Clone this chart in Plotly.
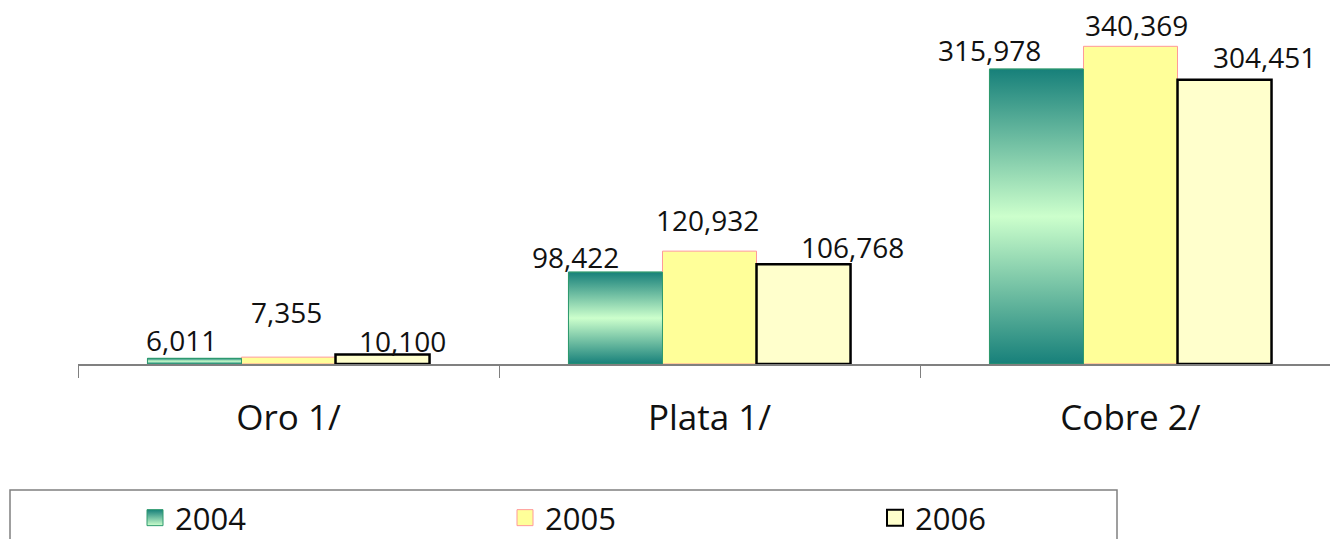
import plotly.graph_objects as go

# ---------------- data ----------------
categories = ["Oro 1/", "Plata 1/", "Cobre 2/"]
years = ["2004", "2005", "2006"]
v2004 = [6011, 98422, 315978]
v2005 = [7355, 120932, 340369]
v2006 = [10100, 106768, 304451]
values = [v2004, v2005, v2006]

# ---------------- style ----------------
W, H = 1330, 539
M_L, M_R, M_T, M_B = 78, 0, 28, 175
PLOT_W = W - M_L - M_R
PLOT_H = H - M_T - M_B
BARGAP = 0.33
FONT = "Open Sans"
TEXT_COLOR = "#111111"

fills = ["#5aa891", "#ffff99", "#ffffcc"]
edges = ["#2e9a6e", "#ff9999", "#000000"]
edge_w = [1, 1, 2.5]
grad_scale = [[0, "#17807a"], [0.5, "#ccffcc"], [1, "#17807a"]]

# label displacement (px) relative to the top centre of each bar, as in the reference
label_dx = [[-13, -40, -47], [-2, -2, 6], [20, 49, 40]]
label_gap = [[8, 5, 9], [35, 21, 11], [4, 7, 13]]

x_range = [-0.5, -0.5 + PLOT_W / 421.0]
y_range = [0, 360000]


def px_to_paper_x(px):
    return (px - M_L) / PLOT_W


def px_to_paper_y(py):
    return (H - M_B - py) / PLOT_H


fig = go.Figure()

for k, yr in enumerate(years):
    fig.add_trace(go.Bar(
        name=yr, x=categories, y=values[k],
        marker=dict(color=fills[k], line=dict(color=edges[k], width=edge_w[k])),
        hoverinfo="skip", showlegend=False,
    ))

# gradient overlay for the 2004 bars, following the bar geometry
bw = (1 - BARGAP) / 3
for i, v in enumerate(v2004):
    x0 = i - (1 - BARGAP) / 2
    x1 = x0 + bw
    fig.add_trace(go.Scatter(
        x=[x0, x0, x1, x1, x0], y=[0, v, v, 0, 0],
        xaxis="x2", mode="lines", fill="toself",
        line=dict(color=edges[0], width=1),
        fillgradient=dict(type="vertical", colorscale=grad_scale, start=0, stop=v),
        showlegend=False, hoverinfo="skip",
    ))

# legend entries (square swatches)
legend_marker = [
    dict(symbol="square", size=16, color="#17807a",
         gradient=dict(type="vertical", color="#ccffcc"), line=dict(color=edges[0], width=1)),
    dict(symbol="square", size=16, color=fills[1], line=dict(color=edges[1], width=1)),
    dict(symbol="square", size=16, color=fills[2], line=dict(color=edges[2], width=2)),
]
for k, yr in enumerate(years):
    fig.add_trace(go.Scatter(
        name=yr, x=[None], y=[None], mode="markers", marker=legend_marker[k],
        showlegend=True, hoverinfo="skip",
    ))

# value labels
for k in range(3):
    for i, v in enumerate(values[k]):
        xc = i - (1 - BARGAP) / 2 + (k + 0.5) * bw
        fig.add_annotation(
            x=xc, y=v, xref="x2", yref="y",
            text=f"{v:,}", showarrow=False,
            xanchor="center", yanchor="bottom",
            xshift=label_dx[k][i], yshift=label_gap[k][i] - 11,
            font=dict(family=FONT, size=28, color=TEXT_COLOR),
        )

# legend frame
fig.add_shape(
    type="rect", xref="paper", yref="paper",
    x0=px_to_paper_x(10), x1=px_to_paper_x(1117),
    y0=px_to_paper_y(490), y1=px_to_paper_y(560),
    line=dict(color="#808080", width=1.5), fillcolor="rgba(0,0,0,0)",
)

fig.update_layout(
    width=W, height=H,
    margin=dict(l=M_L, r=M_R, t=M_T, b=M_B, autoexpand=False),
    paper_bgcolor="white", plot_bgcolor="white",
    barmode="group", bargap=BARGAP, bargroupgap=0,
    font=dict(family=FONT, color=TEXT_COLOR),
    xaxis=dict(
        type="category", range=x_range,
        showline=True, linecolor="#808080", linewidth=2,
        ticks="outside", tickson="boundaries", ticklen=12, tickcolor="#808080", tickwidth=1,
        tickfont=dict(family=FONT, size=35, color=TEXT_COLOR),
        ticklabelstandoff=22,
        showgrid=False, zeroline=False, fixedrange=True,
    ),
    xaxis2=dict(
        overlaying="x", range=x_range, visible=False, fixedrange=True,
    ),
    yaxis=dict(
        range=y_range, visible=False, showgrid=False, zeroline=False, fixedrange=True,
    ),
    legend=dict(
        orientation="h", x=px_to_paper_x(135), xanchor="left",
        y=px_to_paper_y(491), yanchor="top",
        entrywidth=325, entrywidthmode="pixels", itemsizing="trace",
        font=dict(family=FONT, size=31, color=TEXT_COLOR),
        bgcolor="rgba(0,0,0,0)", borderwidth=0,
    ),
    showlegend=True,
)

fig.write_html(
    "out.html",
    config={"displayModeBar": False},
    post_script="document.body.style.margin='0';",
)
